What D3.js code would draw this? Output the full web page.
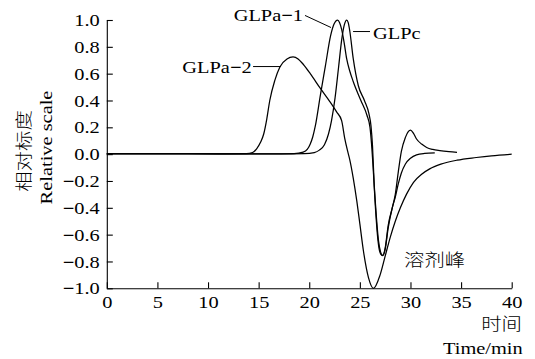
<!DOCTYPE html>
<html>
<head>
<meta charset="utf-8">
<script src="https://cdn.jsdelivr.net/npm/d3@7"></script>
<style>
  html, body { margin: 0; padding: 0; background: #fff; }
  svg { display: block; }
</style>
</head>
<body>
<div id="chart"></div>
<script>
// Elution traces, [time (min), relative scale]
const glpa1 = [
  [0, 0.003], [8, 0.003], [16, 0.002], [18.5, 0.004], [19.4, 0.015], [19.8, 0.035],
  [20.1, 0.076], [20.35, 0.13], [20.6, 0.21], [21.1, 0.44], [21.6, 0.66], [22.1, 0.88],
  [22.45, 0.97], [22.8, 1.0], [23.0, 0.98], [23.2, 0.93], [23.45, 0.83], [23.7, 0.71],
  [24.0, 0.62], [24.35, 0.54], [25.1, 0.40], [25.7, 0.29], [26.0, 0.2], [26.15, 0.08],
  [26.35, -0.15], [26.5, -0.35], [26.8, -0.65], [27.0, -0.735], [27.25, -0.757],
  [27.5, -0.71], [27.8, -0.55], [28.2, -0.4], [28.5, -0.32], [28.8, -0.22], [29.1, -0.14],
  [29.5, -0.073], [30.0, -0.03], [30.6, -0.005], [31.4, 0.005], [32.4, 0.009]
];
const glpc = [
  [0, 0.002], [8, 0.002], [17, 0.002], [19.5, 0.004], [20.5, 0.012], [21.0, 0.03],
  [21.5, 0.07], [21.9, 0.15], [22.2, 0.25], [22.55, 0.42], [22.9, 0.65], [23.2, 0.85],
  [23.45, 0.96], [23.7, 1.0], [23.85, 0.98], [24.0, 0.92], [24.35, 0.71], [24.85, 0.51],
  [25.45, 0.40], [25.9, 0.30], [26.1, 0.21], [26.25, 0.06], [26.4, -0.2], [26.55, -0.38],
  [26.85, -0.65], [27.05, -0.73], [27.25, -0.755], [27.5, -0.7], [27.8, -0.53],
  [28.2, -0.4], [28.5, -0.3], [28.8, -0.13], [29.1, 0.02], [29.5, 0.125], [29.8, 0.17],
  [30.0, 0.18], [30.3, 0.155], [30.6, 0.113], [31.1, 0.075], [31.6, 0.05], [32.2, 0.035],
  [32.9, 0.026], [33.8, 0.018], [34.6, 0.013]
];
const glpa2 = [
  [0, 0.004], [6, 0.004], [11, 0.002], [13.8, 0.003], [14.4, 0.012], [14.8, 0.04],
  [15.2, 0.09], [15.5, 0.15], [15.8, 0.26], [16.1, 0.40], [16.6, 0.55], [17.1, 0.65],
  [17.8, 0.71], [18.4, 0.725], [18.9, 0.71], [19.4, 0.67], [20.1, 0.6], [21.1, 0.49],
  [22.05, 0.39], [22.7, 0.315], [23.2, 0.25], [23.5, 0.12], [23.8, 0.02], [24.0, -0.04],
  [24.35, -0.18], [24.7, -0.35], [25.0, -0.52], [25.35, -0.72], [25.85, -0.92],
  [26.35, -1.0], [27.0, -0.9], [27.5, -0.76], [28.0, -0.62], [28.5, -0.5], [29.0, -0.40],
  [29.6, -0.3], [30.3, -0.21], [31.1, -0.15], [31.9, -0.11], [33, -0.075], [34.6, -0.045],
  [36.5, -0.025], [38, -0.012], [40, 0.0]
];

const xTicks = [0, 5, 10, 15, 20, 25, 30, 35, 40];
const yTicks = [-1.0, -0.8, -0.6, -0.4, -0.2, 0.0, 0.2, 0.4, 0.6, 0.8, 1.0];

// Curve labels: text position and leader line, in data units
const curveLabels = [
  { text: "GLPa−1", at: [19.39, 0.996], anchor: "end",   from: [19.58, 1.034], to: [22.15, 0.944] },
  { text: "GLPc",   at: [26.3, 0.862],  anchor: "start", from: [24.33, 0.914], to: [26.0, 0.914] },
  { text: "GLPa−2", at: [14.32, 0.608], anchor: "end",   from: [14.45, 0.653], to: [17.2, 0.653] }
];
const solventLabel = { text: "溶剂峰", at: [29.37, -0.832] };

const W = 535, H = 359;
const SERIF = "'Liberation Serif', 'Times New Roman', serif";
const CJK = "'Noto Sans CJK SC', 'Noto Sans CJK JP', sans-serif";
const FS = 17, SX = 1.2;

const svg = d3.select("#chart").append("svg")
  .attr("width", W).attr("height", H)
  .attr("viewBox", `0 0 ${W} ${H}`);

const x = d3.scaleLinear().domain([0, 40]).range([106.8, 511.7]);
const y = d3.scaleLinear().domain([-1, 1]).range([288.3, 20]);

// Horizontally widened text helper
function label(g, str, px, py, anchor, font, extra) {
  return g.append("text")
    .attr("transform", `translate(${px},${py}) ${extra || ""} scale(${SX},1)`)
    .attr("text-anchor", anchor)
    .attr("font-family", font || SERIF)
    .attr("font-size", FS)
    .attr("fill", "#000")
    .text(str);
}

// Axes
const fmt = d3.format(".1f");
const xAxis = svg.append("g")
  .attr("transform", `translate(0,${y(-1)})`)
  .call(d3.axisBottom(x).tickValues(xTicks).tickSizeInner(-6).tickSizeOuter(0));
const yAxis = svg.append("g")
  .attr("transform", `translate(${x(0)},0)`)
  .call(d3.axisLeft(y).tickValues(yTicks).tickSizeInner(-6).tickSizeOuter(0).tickFormat(fmt));

[xAxis, yAxis].forEach(g => {
  g.attr("font-family", SERIF).attr("font-size", FS);
  g.selectAll("path, line").attr("stroke", "#000").attr("stroke-width", 1.1);
});

xAxis.selectAll(".tick text")
  .attr("y", null).attr("dy", null)
  .attr("transform", `translate(0,19.3) scale(${SX},1)`)
  .attr("fill", "#000");

yAxis.selectAll(".tick text").each(function (d) {
  const s = fmt(Math.abs(d) < 1e-9 ? 0 : d);
  const t = d3.select(this).text(null)
    .attr("x", null).attr("dy", "0.33em")
    .attr("transform", `translate(-7,0) scale(${SX},1)`)
    .attr("fill", "#000");
  if (s[0] === "−" || s[0] === "-") {
    t.append("tspan").attr("font-weight", "bold").text("−");
    t.append("tspan").text(s.slice(1));
  } else {
    t.text(s);
  }
});

// Axis titles
label(svg, "相对标度", 22, 151, "middle", CJK, "rotate(-90)")
  .attr("dominant-baseline", "central").attr("font-weight", 300);
label(svg, "Relative scale", 52, 147.5, "middle", SERIF, "rotate(-90)");
label(svg, "时间", 522, 330, "end", CJK).attr("font-weight", 300);
label(svg, "Time/min", 522.7, 354, "end", SERIF);

// Traces
const line = d3.line()
  .x(d => x(d[0]))
  .y(d => y(d[1]))
  .curve(d3.curveMonotoneX);

svg.append("g")
  .selectAll("path")
  .data([glpa2, glpa1, glpc])
  .join("path")
  .attr("d", line)
  .attr("fill", "none")
  .attr("stroke", "#000")
  .attr("stroke-width", 1.25)
  .attr("stroke-linejoin", "round");

// Curve labels with leader lines
const ann = svg.append("g");
curveLabels.forEach(c => {
  ann.append("line")
    .attr("x1", x(c.from[0])).attr("y1", y(c.from[1]))
    .attr("x2", x(c.to[0])).attr("y2", y(c.to[1]))
    .attr("stroke", "#000").attr("stroke-width", 1);
  const t = ann.append("text")
    .attr("transform", `translate(${x(c.at[0])},${y(c.at[1])}) scale(${SX},1)`)
    .attr("text-anchor", c.anchor)
    .attr("font-family", SERIF)
    .attr("font-size", FS)
    .attr("fill", "#000");
  const parts = c.text.split("−");
  t.append("tspan").text(parts[0]);
  if (parts.length > 1) {
    t.append("tspan").attr("font-weight", "bold").text("−");
    t.append("tspan").text(parts[1]);
  }
});

label(svg, solventLabel.text, x(solventLabel.at[0]), y(solventLabel.at[1]), "start", CJK)
  .attr("font-weight", 300);
</script>
</body>
</html>
